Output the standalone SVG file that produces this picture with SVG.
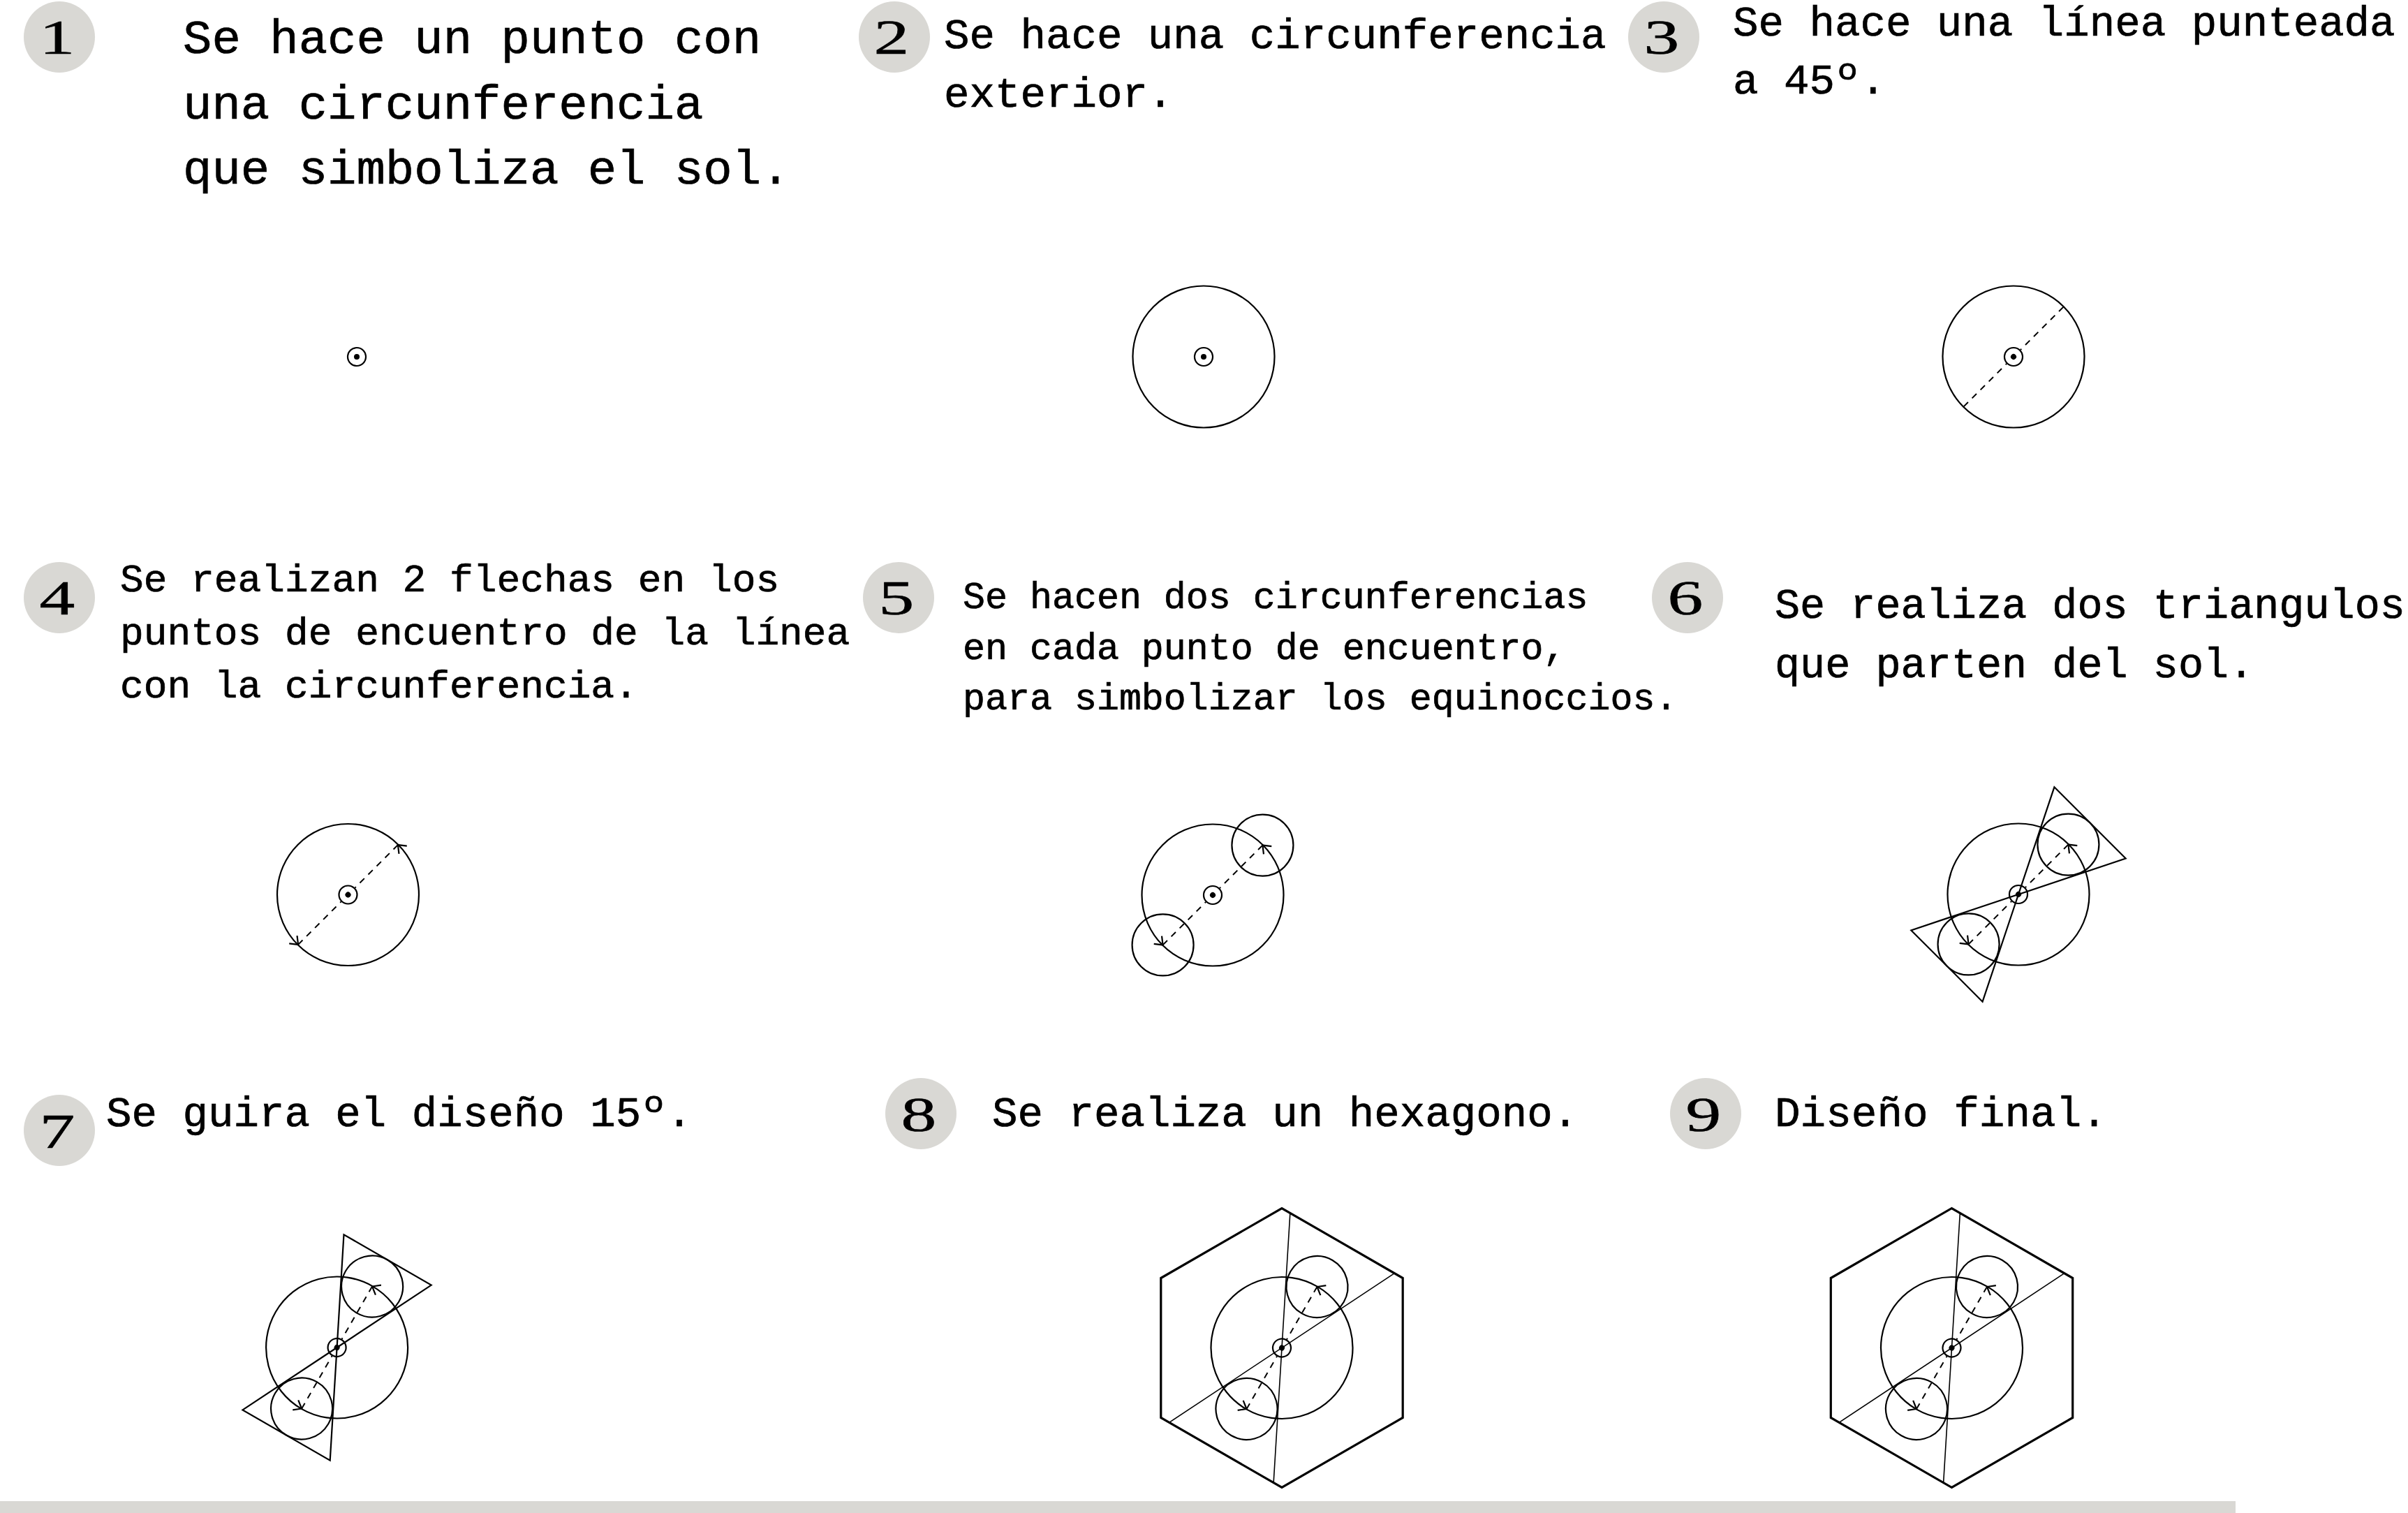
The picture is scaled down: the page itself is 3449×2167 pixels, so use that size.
<svg xmlns="http://www.w3.org/2000/svg" xmlns:xlink="http://www.w3.org/1999/xlink" width="3449" height="2167" viewBox="0 0 3449 2167">
<style>
.ln{fill:none;stroke:#000;stroke-width:2.2}
.dash{fill:none;stroke:#000;stroke-width:2;stroke-dasharray:9 8}
.arr{fill:none;stroke:#000;stroke-width:2.2;stroke-linejoin:miter}
.hex{fill:none;stroke:#000;stroke-width:3.2;stroke-linejoin:miter}
.thin{fill:none;stroke:#000;stroke-width:1.6}
.badge{fill:#d9d8d4}
.num{font-family:"Liberation Serif","Times New Roman",serif;font-size:70px;fill:#000;text-anchor:middle;stroke:#000;stroke-width:0.6}
.t{font-family:"Liberation Mono","Courier New",monospace;fill:#000;stroke:#000;stroke-width:0.7}
</style>
<defs>
<g id="sun"><circle r="13" class="ln"/><circle r="4" fill="#000"/></g>
<circle id="big" r="101.5" class="ln"/>
<path id="dl" class="dash" d="M 101 0 H 14 M -101 0 H -14"/>
<path id="arrows" class="arr" d="M 93 10.2 L 101 0 L 109 10.2 M -109 -10.2 L -101 0 L -93 -10.2"/>
<g id="smalls"><circle cx="101" cy="0" r="44" class="ln"/><circle cx="-101" cy="0" r="44" class="ln"/></g>
<path id="tris" class="ln" d="M 0 0 L 145 -72.3 L 145 72.3 Z M 0 0 L -145 72.3 L -145 -72.3 Z"/>
<g id="hexset"><path class="hex" d="M 0 -200 L 173.2 -100 L 173.2 100 L 0 200 L -173.2 100 L -173.2 -100 Z"/><path class="thin" d="M 173.2 -86.3 L -173.2 86.3 M 173.2 86.3 L -173.2 -86.3"/></g>
</defs>

<g id="step1">
<circle class="badge" cx="85" cy="53" r="51"/>
<text class="num" transform="translate(82,77) scale(1.45,1)">1</text>
<text class="t" font-size="69" x="262" y="76">Se hace un punto con</text>
<text class="t" font-size="69" x="262" y="170">una circunferencia</text>
<text class="t" font-size="69" x="262" y="263">que simboliza el sol.</text>
<use xlink:href="#sun" x="511" y="511"/>
</g>

<g id="step2">
<circle class="badge" cx="1281" cy="53" r="51"/>
<text class="num" transform="translate(1277,77) scale(1.45,1)">2</text>
<text class="t" font-size="60.8" x="1352" y="69">Se hace una circunferencia</text>
<text class="t" font-size="60.8" x="1352" y="153">exterior.</text>
<g transform="translate(1724,511)"><use xlink:href="#big"/><use xlink:href="#sun"/></g>
</g>

<g id="step3">
<circle class="badge" cx="2383" cy="53" r="51"/>
<text class="num" transform="translate(2380,77) scale(1.45,1)">3</text>
<text class="t" font-size="60.8" x="2482" y="51">Se hace una línea punteada</text>
<text class="t" font-size="60.8" x="2482" y="134">a 45º.</text>
<g transform="translate(2884,511) rotate(-45)"><use xlink:href="#big"/><use xlink:href="#dl"/><use xlink:href="#sun"/></g>
</g>

<g id="step4">
<circle class="badge" cx="85" cy="856" r="51"/>
<text class="num" transform="translate(82,880) scale(1.45,1)">4</text>
<text class="t" font-size="56.2" x="172" y="847">Se realizan 2 flechas en los</text>
<text class="t" font-size="56.2" x="172" y="923">puntos de encuentro de la línea</text>
<text class="t" font-size="56.2" x="172" y="998.5">con la circunferencia.</text>
<g transform="translate(498.5,1281.5) rotate(-45)"><use xlink:href="#big"/><use xlink:href="#dl"/><use xlink:href="#arrows"/><use xlink:href="#sun"/></g>
</g>

<g id="step5">
<circle class="badge" cx="1287" cy="856" r="51"/>
<text class="num" transform="translate(1284,880) scale(1.45,1)">5</text>
<text class="t" font-size="53.3" x="1379" y="870.6">Se hacen dos circunferencias</text>
<text class="t" font-size="53.3" x="1379" y="944">en cada punto de encuentro,</text>
<text class="t" font-size="53.3" x="1379" y="1016">para simbolizar los equinoccios.</text>
<g transform="translate(1737,1282) rotate(-45)"><use xlink:href="#big"/><use xlink:href="#smalls"/><use xlink:href="#dl"/><use xlink:href="#arrows"/><use xlink:href="#sun"/></g>
</g>

<g id="step6">
<circle class="badge" cx="2417" cy="856" r="51"/>
<text class="num" transform="translate(2414,880) scale(1.45,1)">6</text>
<text class="t" font-size="60.2" x="2542" y="885">Se realiza dos triangulos</text>
<text class="t" font-size="60.2" x="2542" y="970">que parten del sol.</text>
<g transform="translate(2891,1281) rotate(-45)"><use xlink:href="#big"/><use xlink:href="#smalls"/><use xlink:href="#tris"/><use xlink:href="#dl"/><use xlink:href="#arrows"/><use xlink:href="#sun"/></g>
</g>

<g id="step7">
<circle class="badge" cx="85" cy="1619" r="51"/>
<text class="num" transform="translate(82,1644) scale(1.45,1)">7</text>
<text class="t" font-size="60.8" x="152" y="1612.7">Se guira el diseño 15º.</text>
<g transform="translate(482.6,1930) rotate(-60)"><use xlink:href="#big"/><use xlink:href="#smalls"/><use xlink:href="#tris"/><use xlink:href="#dl"/><use xlink:href="#arrows"/><use xlink:href="#sun"/></g>
</g>

<g id="step8">
<circle class="badge" cx="1319" cy="1595" r="51"/>
<text class="num" transform="translate(1316,1620) scale(1.45,1)">8</text>
<text class="t" font-size="60.8" x="1421" y="1612.7">Se realiza un hexagono.</text>
<g transform="translate(1836,1930.5) rotate(-60)"><use xlink:href="#big"/><use xlink:href="#smalls"/><use xlink:href="#hexset"/><use xlink:href="#dl"/><use xlink:href="#arrows"/><use xlink:href="#sun"/></g>
</g>

<g id="step9">
<circle class="badge" cx="2443" cy="1595" r="51"/>
<text class="num" transform="translate(2440,1620) scale(1.45,1)">9</text>
<text class="t" font-size="61" x="2542" y="1612.7">Diseño final.</text>
<g transform="translate(2795.5,1930.5) rotate(-60)"><use xlink:href="#big"/><use xlink:href="#smalls"/><use xlink:href="#hexset"/><use xlink:href="#dl"/><use xlink:href="#arrows"/><use xlink:href="#sun"/></g>
</g>

<g id="connectors"></g>

<rect id="footer-bar" x="0" y="2150" width="3202" height="17" fill="#d9d8d4"/>
</svg>
